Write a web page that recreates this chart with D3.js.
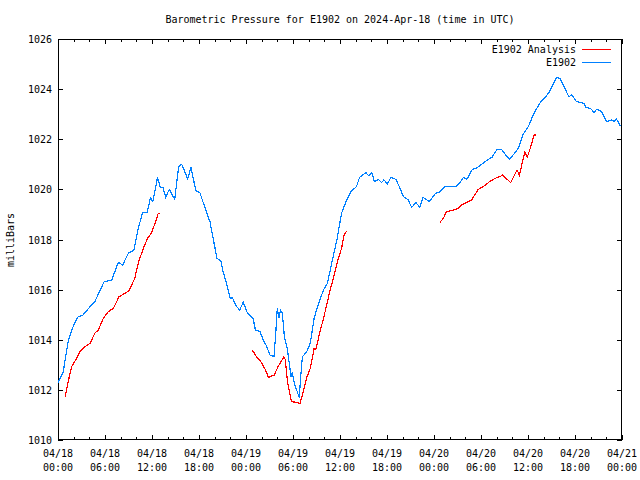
<!DOCTYPE html>
<html><head><meta charset="utf-8">
<script src="https://cdn.jsdelivr.net/npm/d3@7"></script>
<style>
body{margin:0;background:#fff;}
svg{display:block;}
text{font-family:"DejaVu Sans Mono","Liberation Mono",monospace;font-size:10px;fill:#000;}
</style></head><body>
<svg id="c" width="640" height="480"></svg>
<script>
const title = "Barometric Pressure for E1902 on 2024-Apr-18 (time in UTC)";
const yLabel = "milliBars";
const seriesNames = ["E1902 Analysis", "E1902"];
const startTime = Date.UTC(2024, 3, 18, 0, 0);
const yTicks = [1010, 1012, 1014, 1016, 1018, 1020, 1022, 1024, 1026];

// E1902 (blue): hours since 04/18 00:00 UTC, pressure in mbar
const obsHours = [0,0.68,0.9,1.3,1.74,2.5,3.2,4.1,4.7,5.4,5.9,6.85,7.7,8.25,8.98,9.7,10.2,10.8,11.4,11.8,12.1,12.7,13.06,13.4,13.75,14.2,14.9,15.4,15.8,16.55,16.98,17.6,18.1,19,19.4,19.8,20.3,20.8,21.1,21.5,22.0,22.25,22.8,23.2,23.65,24.2,24.9,25.2,25.8,26.2,26.6,27.07,27.57,27.8,28.0,28.2,28.4,28.64,28.9,29.3,29.75,29.9,30.25,30.8,31.0,31.2,31.75,32.2,32.7,33.2,33.9,34.4,34.9,35.6,36.2,36.77,37.4,38.1,38.5,39.3,39.7,40.05,40.4,40.9,41.3,41.6,42.05,42.5,43.15,43.66,44.1,44.7,45.15,45.7,46.2,46.6,47.4,48.2,48.8,49.4,50.8,51.3,51.75,52.2,52.9,53.4,54.1,54.7,55.4,56,56.6,57.06,57.6,58.1,58.77,59.4,60.04,60.7,61.5,62.2,62.6,63.25,63.66,64.1,64.6,65.2,65.6,66.2,67.1,67.4,68.1,68.4,68.8,69.4,70.04,70.7,71,71.3,71.8];
const obsValues = [1012.29,1012.73,1013.19,1013.92,1014.39,1014.9,1014.99,1015.32,1015.52,1015.99,1016.32,1016.38,1017.09,1016.98,1017.45,1017.58,1018.38,1019.09,1019.09,1019.67,1019.51,1020.47,1020.08,1020.08,1019.68,1020.0,1019.6,1020.91,1021.0,1020.42,1020.87,1019.94,1019.88,1019.05,1018.71,1018.05,1017.25,1017.14,1016.69,1016.25,1015.65,1015.68,1015.32,1015.19,1015.5,1015.05,1014.86,1014.39,1014.32,1013.99,1013.76,1013.39,1013.32,1014.26,1015.28,1014.86,1015.19,1015.05,1014.12,1013.59,1012.53,1012.66,1012.19,1011.69,1012.59,1013.32,1013.52,1013.86,1014.86,1015.39,1015.99,1016.25,1017.0,1017.98,1019.05,1019.51,1019.91,1020.11,1020.48,1020.67,1020.53,1020.67,1020.31,1020.4,1020.27,1020.38,1020.22,1020.48,1020.4,1020.04,1019.71,1019.58,1019.28,1019.47,1019.28,1019.68,1019.51,1019.84,1019.91,1020.11,1020.11,1020.27,1020.48,1020.4,1020.8,1020.84,1021.01,1021.15,1021.28,1021.57,1021.6,1021.41,1021.2,1021.37,1021.64,1022.21,1022.5,1023.0,1023.44,1023.68,1023.83,1024.21,1024.47,1024.43,1024.1,1023.7,1023.77,1023.5,1023.44,1023.28,1023.2,1023.07,1023.2,1023.1,1022.7,1022.77,1022.7,1022.8,1022.53];

// E1902 Analysis (red): three separate segments
const anaHours = [
  [0.9,1.3,1.74,2.26,2.8,3.45,4.1,4.7,5.15,5.8,6.4,7.06,7.8,8.55,9.06,9.8,10.3,10.9,11.45,11.9,12.4,12.8,13.06],
  [24.8,25.35,25.95,26.5,26.85,27.6,28.1,28.8,29.0,29.3,29.8,30.5,30.9,31.2,31.75,32.2,32.7,32.9,33.45,34.0,34.7,35.3,35.8,36.2,36.55,36.86],
  [48.77,49.2,49.6,50.55,51.1,51.5,51.96,52.8,53.2,53.65,54.3,55.1,55.8,56.4,56.76,57.2,57.8,58.2,58.6,58.9,59.6,59.9,60.35,60.77,61.0]
];
const anaValues = [
  [1011.7,1012.33,1012.93,1013.19,1013.52,1013.72,1013.86,1014.26,1014.39,1014.86,1015.12,1015.25,1015.72,1015.85,1015.95,1016.45,1017.12,1017.65,1018.05,1018.25,1018.65,1019.05,1019.05],
  [1013.59,1013.32,1013.1,1012.79,1012.5,1012.59,1012.93,1013.3,1013.23,1012.33,1011.53,1011.5,1011.46,1011.8,1012.49,1012.86,1013.66,1013.6,1014.32,1014.99,1015.92,1016.65,1017.25,1017.65,1018.21,1018.33],
  [1018.69,1018.85,1019.11,1019.18,1019.24,1019.38,1019.45,1019.58,1019.78,1020.0,1020.11,1020.31,1020.44,1020.51,1020.57,1020.44,1020.27,1020.53,1020.77,1020.57,1021.5,1021.28,1021.7,1022.17,1022.17]
];

const colors = ["#ff0000", "#0080ff"];
const toDate = h => new Date(startTime + h * 3600000);

const svg = d3.select("#c");
const L = 58, R = 622, T = 39, B = 440;
const x = d3.scaleUtc().domain([toDate(0), toDate(72)]).range([L, R]);
const y = d3.scaleLinear().domain([1010, 1026]).range([B, T]);

svg.append("text").attr("x", 340).attr("y", 23).attr("text-anchor", "middle").text(title);

const g = svg.append("g").attr("shape-rendering", "crispEdges");
// ticks
const minorTimes = d3.range(0, 73, 2).map(toDate);
const majorTimes = d3.range(0, 73, 6).map(toDate);
minorTimes.forEach(d => {
  const major = (d - startTime) % (6 * 3600000) === 0;
  const len = major ? 5 : 3;
  const px = Math.round(x(d)) + 0.5;
  g.append("line").attr("x1", px).attr("x2", px).attr("y1", B).attr("y2", B - len).attr("stroke", "#000");
  g.append("line").attr("x1", px).attr("x2", px).attr("y1", T).attr("y2", T + len).attr("stroke", "#000");
});
yTicks.forEach(v => {
  const py = Math.round(y(v)) + 0.5;
  g.append("line").attr("x1", L).attr("x2", L + 5).attr("y1", py).attr("y2", py).attr("stroke", "#000");
  g.append("line").attr("x1", R - 5).attr("x2", R).attr("y1", py).attr("y2", py).attr("stroke", "#000");
  svg.append("text").attr("x", 52).attr("y", y(v) + 4).attr("text-anchor", "end").text(v);
});
const fmtDay = d3.utcFormat("%m/%d"), fmtTime = d3.utcFormat("%H:%M");
majorTimes.forEach(d => {
  svg.append("text").attr("x", x(d)).attr("y", 457).attr("text-anchor", "middle").text(fmtDay(d));
  svg.append("text").attr("x", x(d)).attr("y", 471).attr("text-anchor", "middle").text(fmtTime(d));
});
svg.append("text").attr("transform", "translate(14,240) rotate(-90)").attr("text-anchor", "middle").text(yLabel);

// data lines
const line = d3.line().x(d => x(toDate(d[0]))).y(d => y(d[1]));
const lines = svg.append("g").attr("fill", "none").attr("stroke-width", 1.2).attr("shape-rendering", "crispEdges");
lines.append("path").datum(d3.zip(obsHours, obsValues)).attr("d", line).attr("stroke", colors[1]);
anaHours.forEach((hs, i) => {
  lines.append("path").datum(d3.zip(hs, anaValues[i])).attr("d", line).attr("stroke", colors[0]);
});

// border
g.append("rect").attr("x", L + 0.5).attr("y", T + 0.5).attr("width", R - L - 1).attr("height", B - T - 1)
  .attr("fill", "none").attr("stroke", "#000");

// legend
seriesNames.forEach((n, i) => {
  const ly = 49 + i * 13;
  svg.append("text").attr("x", 576).attr("y", ly + 4).attr("text-anchor", "end").text(n);
  g.append("line").attr("x1", 582).attr("x2", 611).attr("y1", ly + 0.5).attr("y2", ly + 0.5).attr("stroke", colors[i]);
});
</script>
</body></html>
